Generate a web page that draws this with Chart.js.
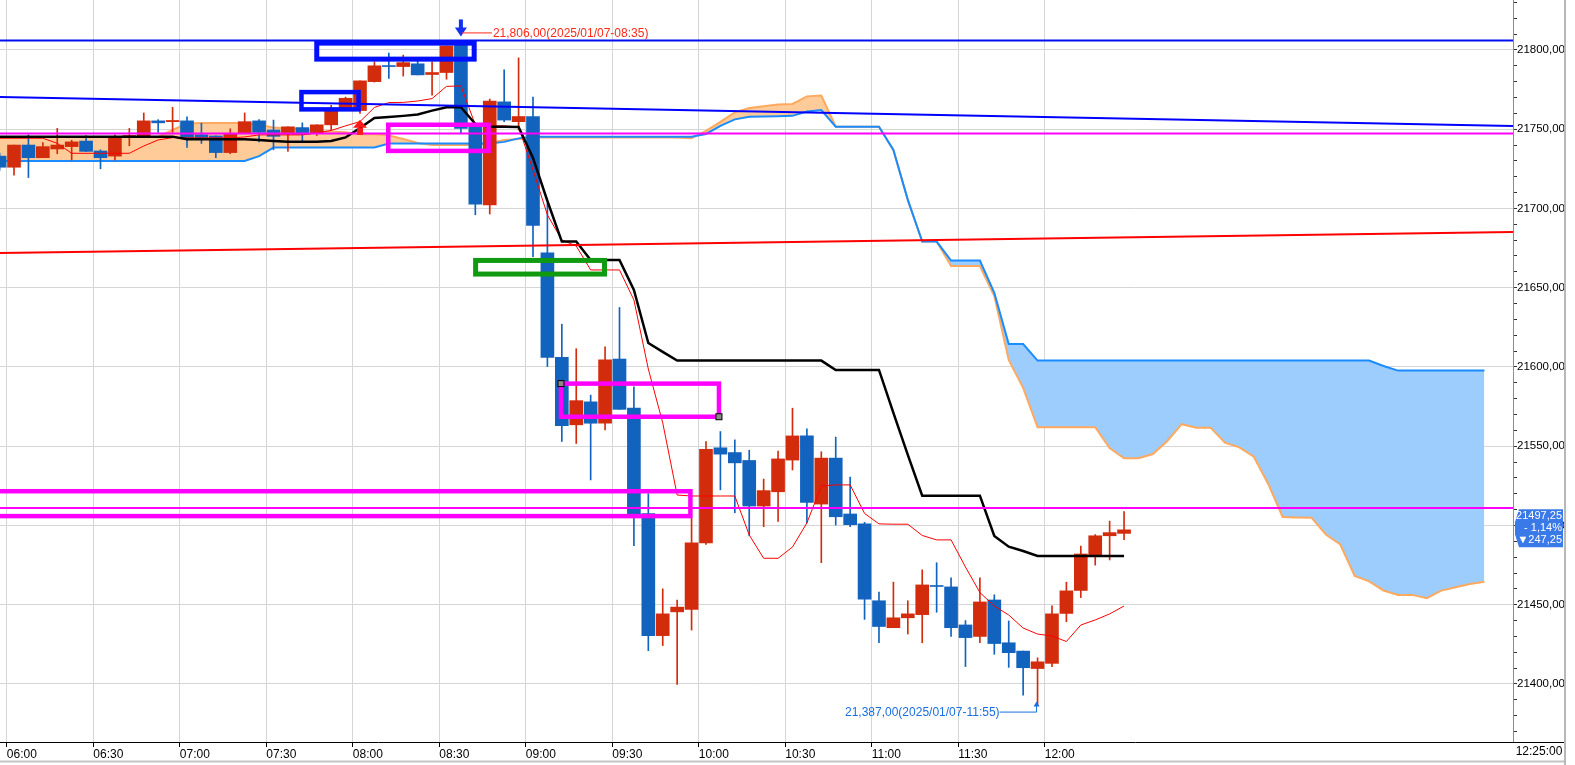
<!DOCTYPE html>
<html>
<head>
<meta charset="utf-8">
<script src="https://cdn.jsdelivr.net/npm/chart.js@4.4.1/dist/chart.umd.min.js"></script>
<style>
  html, body { margin: 0; padding: 0; background: #fff; overflow: hidden; }
  #wrap { width: 1575px; height: 765px; position: relative; }
</style>
</head>
<body>
<div id="wrap"><canvas id="chart"></canvas></div>
<script>
// 5-minute bars of 2025/01/07, first bar starts 05:55
const barStart = '05:55';
const barMinutes = 5;

const opens = [
  21733, 21726, 21740, 21732, 21737.5, 21739, 21742.5, 21736.25, 21733, 21744.75,
  21745, 21755.25, 21754.75, 21755.25, 21746.5, 21745.75, 21735.25, 21747.5, 21755.25, 21749.5,
  21746.75, 21751, 21747.25, 21752.75, 21763.25, 21761.75, 21780, 21790, 21789.5, 21791.25,
  21784.5, 21785.75, 21806, 21752, 21702.25, 21767.25, 21754.75, 21758, 21672, 21606,
  21563.5, 21578, 21564.5, 21605, 21574, 21507.5, 21430.5, 21445.5, 21447, 21489,
  21549, 21546, 21541, 21512.25, 21521.25, 21541.25, 21556.5, 21513.5, 21542.5, 21507.25,
  21501, 21452.5, 21435.5, 21441.75, 21443.75, 21462, 21461.25, 21437.25, 21430, 21453,
  21426, 21420.75, 21409.75, 21413, 21444.5, 21459, 21481.5, 21493.5, 21495
];
const highs = [
  21735, 21740, 21746.5, 21741.5, 21750.5, 21743, 21746, 21737, 21746.5, 21750.5,
  21760.25, 21756, 21763.75, 21757.75, 21753.75, 21745.75, 21750.25, 21760.25, 21756, 21755.75,
  21751.5, 21754, 21752.75, 21765, 21770.25, 21780.5, 21792.5, 21798, 21796.75, 21793.25,
  21792.5, 21802.5, 21806, 21754, 21769, 21787.5, 21795, 21770.25, 21703.25, 21627,
  21611.5, 21582.25, 21612.75, 21637.5, 21587.5, 21520, 21460, 21453, 21504.5, 21553,
  21559.25, 21554, 21547.5, 21529.25, 21547, 21574, 21561, 21546.5, 21555.75, 21530.5,
  21502, 21458, 21464.25, 21452.5, 21472, 21476.5, 21467, 21440, 21467, 21456.25,
  21439.75, 21420.75, 21416.5, 21449.25, 21464.25, 21487, 21494.25, 21502.75, 21508.75
];
const lows = [
  21724, 21721, 21719.5, 21732, 21734.5, 21730.5, 21735.75, 21725, 21730.5, 21739.5,
  21745, 21748, 21748, 21738.5, 21741, 21732, 21734.5, 21747.5, 21742, 21737,
  21736, 21742, 21746, 21749.5, 21762.5, 21760, 21779.75, 21782, 21783.5, 21784.25,
  21771.5, 21781.5, 21747.5, 21696, 21696.5, 21754.75, 21749.5, 21669.5, 21600.25, 21553,
  21551.75, 21528.75, 21560.25, 21573.25, 21487.25, 21421, 21424.25, 21399.75, 21434, 21488,
  21522.5, 21508, 21493.5, 21499.25, 21502.5, 21535, 21501.75, 21476.5, 21500.25, 21499.25,
  21440.75, 21426, 21435.5, 21431.5, 21426, 21445.25, 21430, 21411, 21426, 21418.75,
  21410.5, 21393, 21387, 21411, 21439.25, 21454.5, 21475, 21478.25, 21491
];
const closes = [
  21726, 21740, 21732, 21739, 21740, 21742, 21736, 21732, 21745, 21746,
  21755.25, 21754, 21755.5, 21744.25, 21744.25, 21735.25, 21747, 21754.75, 21748, 21745.5,
  21751.5, 21746.75, 21752.75, 21761.5, 21769.5, 21780.5, 21790, 21789.5, 21792, 21784.25,
  21785.75, 21802.5, 21750.5, 21702.75, 21767.75, 21755.75, 21758, 21689.25, 21606, 21563,
  21578.75, 21564.5, 21604.5, 21573.25, 21507.25, 21430.5, 21444.25, 21448.5, 21489, 21548,
  21545, 21539.5, 21512.25, 21522, 21542, 21556.5, 21514.5, 21542.5, 21505.5, 21500.5,
  21453.5, 21436.25, 21441.75, 21444.25, 21462.5, 21461.5, 21435.5, 21429.25, 21451.75, 21425.5,
  21419.75, 21410.25, 21414, 21444.25, 21458.75, 21482, 21493.5, 21495.5, 21497.25
];

// ichimoku style lines (conversion = red, base = black)
const conversion = [
  21744.3, 21744.3, 21744.3, 21744.3, 21741.1, 21734.8, 21734.8, 21734.8, 21734.8, 21734.8,
  21739.4, 21743.2, 21744.7, 21744.5, 21744.5, 21744.5, 21744.5, 21745.1, 21746.4, 21746.4,
  21746.4, 21746.4, 21747.6, 21749.2, 21752.1, 21754.8, 21763.7, 21766.8, 21766.9, 21767.8,
  21769.3, 21777, 21777.3, 21752.7, 21752.1, 21752.1, 21751.4, 21724.3, 21695.9, 21680.1,
  21676.3, 21661.2, 21661.2, 21661.2, 21642.3, 21598.7, 21564.7, 21519.2, 21518.6, 21518.6,
  21518.6, 21518.6, 21494, 21479.3, 21479.3, 21486.4, 21501.6, 21524.9, 21525.6, 21525.6,
  21507.6, 21501, 21500.8, 21500.8, 21493.7, 21490.9, 21490.9, 21473.8, 21457.7, 21449.2,
  21443.5, 21435.3, 21431.5, 21430.3, 21426.8, 21437.2, 21440.4, 21444.2, 21449.2
];
const base = [
  21745.3, 21745.3, 21745.3, 21745.3, 21745.3, 21745.3, 21745.3, 21745.3, 21745.3, 21745.3,
  21745.3, 21745.3, 21745.3, 21743.7, 21743.7, 21743.7, 21743.7, 21743.7, 21743.2, 21742.6,
  21742.1, 21742.1, 21742.1, 21742.6, 21744.8, 21750.8, 21757.1, 21757.7, 21758.4, 21759.3,
  21761.7, 21763.85, 21763.85, 21753.3, 21751.6, 21751.6, 21751.4, 21731.9, 21704.7, 21679.1,
  21679.1, 21667.5, 21667.5, 21667.5, 21648.6, 21615.1, 21609.5, 21604, 21604, 21604,
  21604, 21604, 21604, 21604, 21604, 21604, 21604, 21604, 21598.1, 21598.1,
  21598.1, 21598.1, 21571, 21544.5, 21518.8, 21518.8, 21518.8, 21518.8, 21518.8, 21493.4,
  21486.6, 21483.9, 21480.8, 21480.8, 21480.8, 21480.8, 21480.8, 21480.8, 21480.8
];
// leading spans, plotted 25 bars ahead (same start bar)
const spanA = [
  21745.1, 21745.1, 21745.1, 21745.1, 21745.1, 21745.1, 21745.1, 21745.1, 21745.1, 21745.1,
  21745.1, 21745.1, 21749.5, 21753.6, 21753.9, 21753.9, 21753.9, 21753.9, 21753, 21751,
  21750.5, 21750.2, 21748.5, 21748.5, 21748, 21746.8, 21746.8, 21746.1, 21743.8, 21741.3,
  21740.1, 21740.1, 21740.1, 21740.1, 21741.3, 21743.2, 21743.8, 21744.8, 21744.8, 21744.8,
  21744.8, 21744.8, 21744.8, 21744.8, 21744.8, 21744.8, 21744.8, 21744.8, 21744.3, 21748.9,
  21754.6, 21760.6, 21763.4, 21764.4, 21765.5, 21765.9, 21770.7, 21771.2, 21751.6, 21751.6,
  21751.6, 21751.6, 21736.9, 21705.4, 21679.1, 21679.1, 21663.7, 21663.7, 21663.7, 21644.8,
  21604.4, 21586.8, 21562, 21562, 21562, 21562, 21562, 21548.9, 21542.4, 21542.4,
  21545.1, 21553.3, 21563.9, 21561.7, 21561.7, 21552.2, 21549.3, 21543.4, 21526.2, 21505.4,
  21505.1, 21504.9, 21494.3, 21488, 21468.1, 21464.7, 21459, 21456.2, 21456.2, 21454.1,
  21458.9, 21461, 21463.1, 21464.5
];
const spanB = [
  21730, 21730, 21730, 21730, 21730, 21730, 21730, 21730, 21730, 21730,
  21730, 21730, 21730, 21730, 21730, 21730, 21730, 21730, 21733, 21738.4,
  21738.4, 21738.4, 21738.4, 21738.4, 21738.4, 21738.4, 21738.4, 21740.9, 21740.9, 21740.9,
  21740.9, 21740.9, 21740.9, 21740.9, 21740.9, 21742, 21744.2, 21745.3, 21745.3, 21745.3,
  21745.3, 21745.3, 21745.3, 21745.3, 21745.3, 21745.3, 21745.3, 21745.3, 21745.3, 21747,
  21752.1, 21756.2, 21757.9, 21758, 21758.2, 21758.4, 21761.2, 21762.1, 21751.6, 21751.6,
  21751.6, 21751.6, 21736.9, 21705.4, 21679.1, 21679.1, 21667.1, 21667.1, 21667.1, 21646.7,
  21614.5, 21614.5, 21604, 21604, 21604, 21604, 21604, 21604, 21604, 21604,
  21604, 21604, 21604, 21604, 21604, 21604, 21604, 21604, 21604, 21604,
  21604, 21604, 21604, 21604, 21604, 21604, 21600.6, 21597.7, 21597.7, 21597.7,
  21597.7, 21597.7, 21597.7, 21597.7
];

// straight lines across the whole window: [left edge, right edge]
const dayHighLine = [21806, 21806];
const longAvgLine = [21770.3, 21752.0];
const trendLine = [21671.9, 21685.2];
const upperLevel = [21747.3, 21747.3];
const lowerLevel = [21511, 21511];

const timeTicks = ['06:00', '06:30', '07:00', '07:30', '08:00', '08:30', '09:00',
                   '09:30', '10:00', '10:30', '11:00', '11:30', '12:00'];
const priceTicks = [21400, 21450, 21500, 21550, 21600, 21650, 21700, 21750, 21800];
const prevClose = 21744.5;
const buySignalBar = 25;

// drawn boxes, in minutes from 06:00 and price
const boxes = [
  { x: [107.5, 162.1], y: [21794.2, 21804.3], color: '#0010ff', width: 5 },
  { x: [102.2, 122.0], y: [21762.5, 21773.4], color: '#0010ff', width: 4.5 },
  { x: [132.3, 167.1], y: [21736.3, 21752.8], color: '#ff00ff', width: 4.5 },
  { x: [162.6, 207.3], y: [21658.6, 21667.2], color: '#109a10', width: 5 },
  { x: [192.2, 247.0], y: [21568.6, 21589.5], color: '#ff00ff', width: 4.5 },
  { x: [-10, 237.1], y: [21505.9, 21521.6], color: '#ff00ff', width: 4.5 }
];

const X_MIN = -2.36, X_MAX = 522.4;
const Y_MIN = 21363.4, Y_MAX = 21831.5;

const toMin = t => { const p = t.split(':').map(Number); return (p[0] - 6) * 60 + p[1]; };
const pad = n => String(n).padStart(2, '0');
const fmtTime = m => pad(6 + Math.floor(m / 60)) + ':' + pad(((m % 60) + 60) % 60);
const startMin = toMin(barStart);
const xOf = i => startMin + barMinutes * i + barMinutes / 2;
const barTime = i => fmtTime(startMin + barMinutes * i);
const fmtPrice = v => v.toFixed(2).replace('.', ',');
const fmtK = v => { const s = v.toFixed(2).split('.'); return s[0].replace(/\B(?=(\d{3})+(?!\d))/g, ',') + ',' + s[1]; };

const UP = '#d32c0c', DOWN = '#1263be';
const colors = closes.map((c, i) => c >= opens[i] ? UP : DOWN);
const pts = arr => arr.map((v, i) => ({ x: xOf(i), y: v }));
const across = v => [{ x: X_MIN, y: v[0] }, { x: X_MAX, y: v[1] }];
const lineSet = (data, color, width, order) => ({
  type: 'line', data, borderColor: color, borderWidth: width, pointRadius: 0,
  tension: 0, fill: false, order
});

const FONT = "'Liberation Sans', sans-serif";

const overlay = {
  id: 'overlay',
  afterDatasetsDraw(chart) {
    const { ctx, chartArea: a, scales: { x, y } } = chart;
    ctx.save();
    ctx.beginPath();
    ctx.rect(a.left, a.top, a.right - a.left, a.bottom - a.top);
    ctx.clip();

    boxes.forEach(b => {
      const l = x.getPixelForValue(b.x[0]), r = x.getPixelForValue(b.x[1]);
      const t = y.getPixelForValue(b.y[1]), bt = y.getPixelForValue(b.y[0]);
      ctx.strokeStyle = b.color;
      ctx.lineWidth = b.width;
      ctx.strokeRect(l, t, r - l, bt - t);
    });

    // selection handles on the middle box
    const hb = boxes[4];
    [[hb.x[0], hb.y[1]], [hb.x[1], hb.y[0]]].forEach(([vx, vy]) => {
      const px = x.getPixelForValue(vx), py = y.getPixelForValue(vy);
      ctx.fillStyle = '#8a8a8a';
      ctx.fillRect(px - 3, py - 3, 6, 6);
      ctx.strokeStyle = '#000';
      ctx.lineWidth = 1;
      ctx.strokeRect(px - 3, py - 3, 6, 6);
    });

    // day high marker
    const hi = highs.indexOf(Math.max(...highs));
    const hx = x.getPixelForValue(xOf(hi)), hy = y.getPixelForValue(highs[hi]);
    ctx.fillStyle = '#1430f0';
    ctx.fillRect(hx - 2, hy - 21, 4, 9);
    ctx.beginPath();
    ctx.moveTo(hx - 6, hy - 13);
    ctx.lineTo(hx + 6, hy - 13);
    ctx.lineTo(hx, hy - 4);
    ctx.closePath();
    ctx.fill();
    ctx.strokeStyle = '#ff2a1a';
    ctx.lineWidth = 1;
    ctx.beginPath();
    ctx.moveTo(hx + 1, hy - 7.5);
    ctx.lineTo(hx + 31, hy - 7.5);
    ctx.stroke();
    ctx.font = '12px ' + FONT;
    ctx.textBaseline = 'middle';
    ctx.textAlign = 'left';
    ctx.fillStyle = '#ff2a1a';
    ctx.fillText(fmtK(highs[hi]) + '(2025/01/07-' + barTime(hi) + ')', hx + 32, hy - 7);

    // day low marker
    const lo = lows.indexOf(Math.min(...lows));
    const lx = x.getPixelForValue(xOf(lo)), ly = y.getPixelForValue(lows[lo]);
    ctx.fillStyle = '#1a6fe0';
    ctx.beginPath();
    ctx.moveTo(lx - 4, ly + 2);
    ctx.lineTo(lx + 2, ly + 2);
    ctx.lineTo(lx - 1, ly - 3);
    ctx.closePath();
    ctx.fill();
    ctx.strokeStyle = '#1a6fe0';
    ctx.beginPath();
    ctx.moveTo(lx - 1, ly + 1);
    ctx.lineTo(lx - 1, ly + 7.5);
    ctx.lineTo(lx - 38, ly + 7.5);
    ctx.stroke();
    ctx.textAlign = 'right';
    ctx.fillText(fmtK(lows[lo]) + '(2025/01/07-' + barTime(lo) + ')', lx - 38, ly + 8);

    // buy signal arrow
    const bx = x.getPixelForValue(xOf(buySignalBar)), by = y.getPixelForValue(lows[buySignalBar]) + 6.5;
    ctx.fillStyle = '#ff1a1a';
    ctx.beginPath();
    ctx.moveTo(bx, by);
    ctx.lineTo(bx + 7, by + 8);
    ctx.lineTo(bx - 7, by + 8);
    ctx.closePath();
    ctx.fill();
    ctx.fillRect(bx - 3, by + 8, 6, 7);
    ctx.restore();
  },
  afterDraw(chart) {
    const { ctx, chartArea: a, scales: { y } } = chart;
    const W = chart.width, H = chart.height;
    ctx.save();
    // frame pieces outside the plot
    ctx.strokeStyle = '#000';
    ctx.lineWidth = 1;
    ctx.beginPath();
    ctx.moveTo(a.right, a.bottom + 0.5);
    ctx.lineTo(W - 11, a.bottom + 0.5);
    ctx.stroke();
    ctx.strokeStyle = '#b8b8b8';
    ctx.lineWidth = 2;
    ctx.beginPath();
    ctx.moveTo(W - 10, 0);
    ctx.lineTo(W - 10, H);
    ctx.stroke();
    ctx.strokeStyle = '#c4c4c4';
    ctx.beginPath();
    ctx.moveTo(0, H - 3.5);
    ctx.lineTo(W - 11, H - 3.5);
    ctx.stroke();

    // current price tag
    const last = closes[closes.length - 1];
    const yc = y.getPixelForValue(last) - 1.5;
    const l = a.right + 2, r = a.right + 50;
    ctx.fillStyle = '#3a7ae8';
    ctx.beginPath();
    ctx.moveTo(l + 4, yc - 19);
    ctx.lineTo(r, yc - 19);
    ctx.lineTo(r, yc + 19);
    ctx.lineTo(l + 4, yc + 19);
    ctx.lineTo(l, yc + 6);
    ctx.lineTo(l, yc - 6);
    ctx.closePath();
    ctx.fill();
    const chg = last - prevClose;
    ctx.fillStyle = '#fff';
    ctx.font = '11px ' + FONT;
    ctx.textAlign = 'right';
    ctx.textBaseline = 'middle';
    ctx.fillText(fmtPrice(last), r - 1, yc - 12);
    ctx.fillText('- ' + fmtPrice(Math.abs(chg / prevClose * 100)) + '%', r - 1, yc);
    ctx.fillText('\u25BC' + fmtPrice(Math.abs(chg)), r - 1, yc + 12);

    // cursor time on the axis
    ctx.fillStyle = '#000';
    ctx.font = '12px ' + FONT;
    ctx.textAlign = 'center';
    ctx.fillText(barTime(closes.length - 1) + ':00', a.right + 26, a.bottom + 10);
    ctx.restore();
  }
};

new Chart(document.getElementById('chart'), {
  type: 'line',
  data: {
    datasets: [
      {
        type: 'line', data: pts(spanA), borderColor: '#ffa95e', borderWidth: 2,
        pointRadius: 0, tension: 0, order: 20,
        fill: { target: 1, above: '#ffcc99', below: '#9ccdfd' }
      },
      lineSet(pts(spanB), '#1a8cff', 2, 19),
      {
        type: 'bar', data: lows.map((l, i) => ({ x: xOf(i), y: [l, highs[i]] })),
        backgroundColor: colors, barThickness: 1, grouped: false, order: 11, minBarLength: 1
      },
      {
        type: 'bar', data: opens.map((o, i) => ({ x: xOf(i), y: [o, closes[i]] })),
        backgroundColor: colors, barThickness: 13, grouped: false, order: 10, minBarLength: 1
      },
      lineSet(pts(conversion), '#ff0000', 1, 5),
      lineSet(pts(base), '#000000', 2.5, 4),
      lineSet(across(trendLine), '#ff0000', 2, 3),
      lineSet(across(longAvgLine), '#0000ff', 2, 3),
      lineSet(across(dayHighLine), '#0010f0', 2, 2),
      lineSet(across(upperLevel), '#ff00ff', 2, 2),
      lineSet(across(lowerLevel), '#ff00ff', 2, 2)
    ]
  },
  options: {
    responsive: true,
    maintainAspectRatio: false,
    animation: false,
    events: [],
    layout: { padding: 0 },
    scales: {
      x: {
        type: 'linear',
        min: X_MIN,
        max: X_MAX,
        offset: false,
        afterFit: s => { s.height = 23; s.paddingLeft = 0; s.paddingRight = 0; },
        afterBuildTicks: s => { s.ticks = timeTicks.map(t => ({ value: toMin(t) })); },
        ticks: {
          align: 'start', autoSkip: false, maxRotation: 0, minRotation: 0, padding: 0,
          color: '#000', font: { family: FONT, size: 12 },
          callback: (v, i) => timeTicks[i]
        },
        grid: { color: '#d6d6d6', tickColor: '#000', tickLength: 5, offset: false },
        border: { color: '#000' }
      },
      y: {
        type: 'linear',
        position: 'right',
        min: Y_MIN,
        max: Y_MAX,
        afterFit: s => { s.width = 62; s.paddingTop = 0; s.paddingBottom = 0; },
        afterBuildTicks: s => {
          const t = [];
          for (let v = Math.ceil(s.min / 10) * 10; v <= s.max; v += 10) t.push({ value: v });
          s.ticks = t;
        },
        ticks: {
          autoSkip: false, padding: 0, color: '#000', font: { family: FONT, size: 11.5 },
          callback: v => priceTicks.includes(v) ? fmtPrice(v) : ''
        },
        grid: {
          color: c => (c.tick && priceTicks.includes(c.tick.value)) ? '#d6d6d6' : 'rgba(0,0,0,0)',
          tickColor: '#333', tickLength: 4
        },
        border: { color: '#8c8c8c' }
      }
    },
    plugins: {
      legend: { display: false },
      tooltip: { enabled: false }
    }
  },
  plugins: [overlay]
});
</script>
</body>
</html>
